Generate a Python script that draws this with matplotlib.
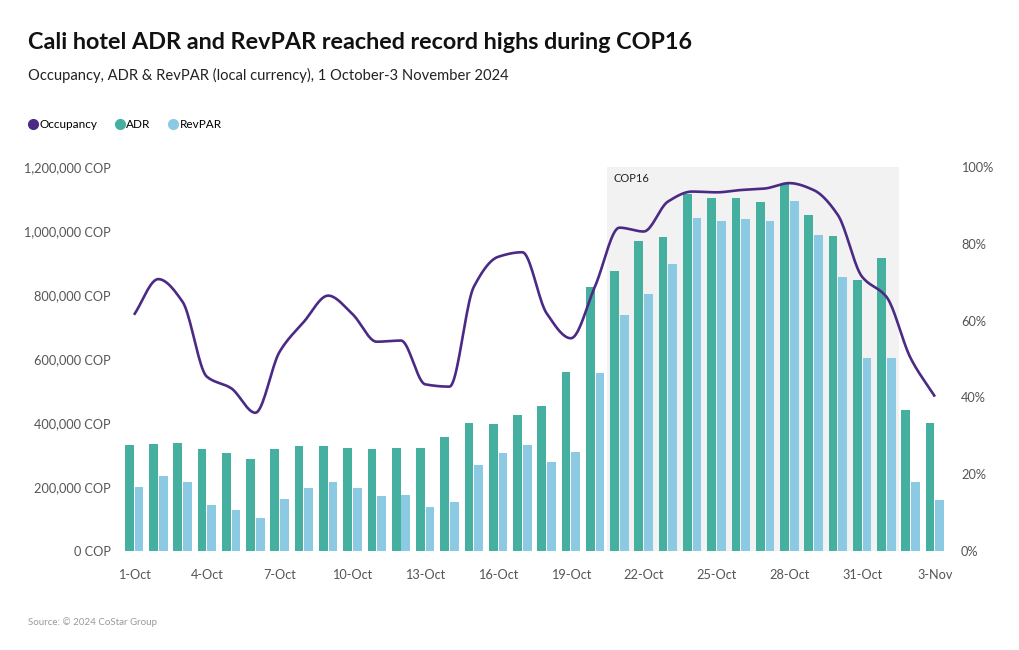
import numpy as np
import matplotlib.pyplot as plt
from matplotlib.lines import Line2D

plt.rcParams['font.family'] = ['Lato', 'DejaVu Sans']

# 1 Oct - 3 Nov 2024
days = ['1-Oct', '2-Oct', '3-Oct', '4-Oct', '5-Oct', '6-Oct', '7-Oct', '8-Oct',
        '9-Oct', '10-Oct', '11-Oct', '12-Oct', '13-Oct', '14-Oct', '15-Oct',
        '16-Oct', '17-Oct', '18-Oct', '19-Oct', '20-Oct', '21-Oct', '22-Oct',
        '23-Oct', '24-Oct', '25-Oct', '26-Oct', '27-Oct', '28-Oct', '29-Oct',
        '30-Oct', '31-Oct', '1-Nov', '2-Nov', '3-Nov']
adr = [330000, 333000, 338000, 319000, 307000, 286000, 319000, 327000,
       327000, 321000, 319000, 322000, 323000, 357000, 399000, 397000,
       425000, 453000, 558000, 824000, 876000, 970000, 981000, 1115000,
       1103000, 1103000, 1092000, 1147000, 1049000, 985000, 847000, 917000,
       442000, 399000]
revpar = [201000, 234000, 217000, 144000, 128000, 102000, 162000, 196000,
          216000, 196000, 173000, 175000, 139000, 152000, 269000, 305000,
          330000, 279000, 308000, 556000, 737000, 803000, 896000, 1042000,
          1031000, 1037000, 1031000, 1095000, 987000, 856000, 604000, 602000,
          215000, 158000]
occupancy = [61.5, 70.8, 64.9, 45.4, 42.4, 36.0, 51.9, 59.7, 66.5, 61.7,
             54.5, 54.8, 43.4, 42.8, 68.8, 76.6, 77.8, 61.9, 55.4, 69.0,
             84.2, 83.2, 91.0, 93.6, 93.4, 94.0, 94.4, 95.8, 94.0, 87.5,
             71.4, 66.2, 50.2, 40.2]
cop16_start, cop16_end = '21-Oct', '1-Nov'

c_occ = '#4b2a86'
c_adr = '#45b09f'
c_rev = '#8ccae4'
c_tick = '#555555'


def monotone(xp, yp, n=20):
    """monotone cubic (Fritsch-Carlson) for a smooth occupancy line"""
    xp = np.asarray(xp, float)
    yp = np.asarray(yp, float)
    h = np.diff(xp)
    d = np.diff(yp) / h
    m = np.zeros_like(yp)
    m[0], m[-1] = d[0], d[-1]
    for k in range(1, len(yp) - 1):
        if d[k - 1] * d[k] > 0:
            w1 = 2 * h[k] + h[k - 1]
            w2 = h[k] + 2 * h[k - 1]
            m[k] = (w1 + w2) / (w1 / d[k - 1] + w2 / d[k])
    xs, ys = [], []
    for k in range(len(xp) - 1):
        t = np.linspace(0, 1, n, endpoint=False)
        h00 = 2 * t**3 - 3 * t**2 + 1
        h10 = t**3 - 2 * t**2 + t
        h01 = -2 * t**3 + 3 * t**2
        h11 = t**3 - t**2
        xs.append(xp[k] + t * h[k])
        ys.append(h00 * yp[k] + h10 * h[k] * m[k] + h01 * yp[k + 1] + h11 * h[k] * m[k + 1])
    xs.append([xp[-1]])
    ys.append([yp[-1]])
    return np.concatenate(xs), np.concatenate(ys)


x = np.arange(len(days))
width = 0.36

fig = plt.figure(figsize=(10.2, 6.5), dpi=100)
ax = fig.add_axes([0.1195, 0.1523, 0.809, 0.5908])

i0, i1 = days.index(cop16_start), days.index(cop16_end)
ax.axvspan(i0 - 0.5, i1 + 0.5, color='#f2f2f2', zorder=0, lw=0)
ax.text(i0 - 0.25, 1165000, 'COP16', fontsize=8, color='#222222', va='center', ha='left')

ax.bar(x - 0.2, adr, width, color=c_adr, zorder=2)
ax.bar(x + 0.2, revpar, width, color=c_rev, zorder=2)

ax.set_xlim(-0.5, len(days) - 0.5)
ax.set_ylim(0, 1200000)
ax.set_yticks(np.arange(0, 1200001, 200000))
ax.set_yticklabels(['{:,} COP'.format(v) for v in range(0, 1200001, 200000)])
ax.set_xticks(x[::3])
ax.set_xticklabels(days[::3])
for s in ax.spines.values():
    s.set_visible(False)
ax.tick_params(length=0, labelsize=9.2, colors=c_tick)
ax.tick_params(axis='y', pad=8)
ax.tick_params(axis='x', pad=13)

ax2 = ax.twinx()
xs, ys = monotone(x, occupancy)
ax2.plot(xs, ys, color=c_occ, lw=1.9, solid_capstyle='butt', zorder=3)
ax2.set_ylim(0, 100)
ax2.set_yticks(np.arange(0, 101, 20))
ax2.set_yticklabels(['{}%'.format(v) for v in range(0, 101, 20)])
for s in ax2.spines.values():
    s.set_visible(False)
ax2.tick_params(length=0, labelsize=9.2, colors=c_tick, pad=10)

fig.text(0.027, 0.934, 'Cali hotel ADR and RevPAR reached record highs during COP16',
         fontsize=16.8, fontweight='bold', color='#111111', va='center')
fig.text(0.027, 0.884, 'Occupancy, ADR & RevPAR (local currency), 1 October-3 November 2024',
         fontsize=10.6, color='#222222', va='center')
fig.text(0.027, 0.043, 'Source: \u00a9 2024 CoStar Group', fontsize=7, color='#999999',
         va='center')

handles = [Line2D([], [], ls='', marker='o', ms=7, color=c) for c in (c_occ, c_adr, c_rev)]
fig.legend(handles, ['Occupancy', 'ADR', 'RevPAR'], loc='center left',
           bbox_to_anchor=(0.016, 0.809), ncol=3, frameon=False, fontsize=8.5,
           handletextpad=0.05, columnspacing=1.4, handlelength=1.0)

fig.savefig('out.png', dpi=100)
